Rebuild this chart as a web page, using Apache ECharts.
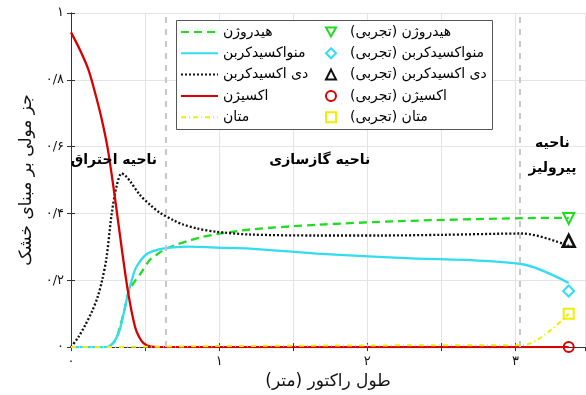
<!DOCTYPE html>
<html>
<head>
<meta charset="utf-8">
<script src="https://cdn.jsdelivr.net/npm/echarts@6/dist/echarts.min.js"></script>
<style>
html,body{margin:0;padding:0;background:#fff;}
#c{width:586px;height:395px;}
</style>
</head>
<body>
<div id="c"></div>
<script>
// ---------- data ----------
const RLM = '\u200F';
const seriesNames = ['هیدروژن', 'منواکسیدکربن', 'دی اکسیدکربن', 'اکسیژن', 'متان'];
const expNames = ['هیدروژن (تجربی)' + RLM, 'منواکسیدکربن (تجربی)' + RLM, 'دی اکسیدکربن (تجربی)' + RLM, 'اکسیژن (تجربی)' + RLM, 'متان (تجربی)' + RLM];

const hydrogenX = [0, 0.24, 0.30, 0.33, 0.36, 0.385, 0.42, 0.466, 0.534, 0.58, 0.635, 0.714, 0.80, 0.87, 0.984, 1.21, 1.66, 2.22, 3.05, 3.36];
const hydrogenY = [0, 0, 0.02, 0.06, 0.11, 0.159, 0.19, 0.218, 0.262, 0.277, 0.293, 0.307, 0.319, 0.328, 0.338, 0.352, 0.366, 0.377, 0.386, 0.387];

const coX = [0, 0.24, 0.28, 0.32, 0.345, 0.365, 0.385, 0.41, 0.44, 0.51, 0.60, 0.67, 0.80, 0.984, 1.21, 1.66, 2.22, 3.05, 3.36];
const coY = [0, 0, 0.01, 0.04, 0.08, 0.12, 0.159, 0.2, 0.239, 0.278, 0.293, 0.298, 0.301, 0.298, 0.295, 0.28, 0.267, 0.248, 0.192];

const co2X = [0, 0.05, 0.095, 0.14, 0.18, 0.21, 0.24, 0.275, 0.31, 0.342, 0.37, 0.40, 0.466, 0.534, 0.60, 0.70, 0.757, 0.85, 0.984, 1.21, 1.66, 2.09, 2.5, 3.05, 3.36];
const co2Y = [0, 0.03, 0.065, 0.105, 0.15, 0.2, 0.268, 0.4, 0.486, 0.52, 0.512, 0.496, 0.455, 0.426, 0.402, 0.378, 0.367, 0.355, 0.345, 0.337, 0.334, 0.334, 0.336, 0.34, 0.303];

const oxygenX = [0, 0.06, 0.117, 0.162, 0.207, 0.248, 0.297, 0.342, 0.387, 0.432, 0.46, 0.489, 0.534, 0.6, 1.5, 3.36];
const oxygenY = [0.942, 0.89, 0.831, 0.762, 0.683, 0.594, 0.446, 0.297, 0.16, 0.061, 0.03, 0.012, 0.002, 0, 0, 0];

const methaneX = [0, 0.5, 1, 2, 3.05, 3.36];
const methaneY = [0, 0.001, 0.003, 0.005, 0.006, 0.10];

const expX = 3.36;
const expY = [0.385, 0.168, 0.318, 0, 0.10];

const regionBounds = [0.635, 3.03];
const regionLabels = ['ناحیه احتراق', 'ناحیه گازسازی', 'ناحیه\nپیرولیز'];
const regionLabelX = [0.29, 1.68, 3.25];
const regionLabelY = [0.558, 0.558, 0.573];

const xTickLabels = ['۰', '۱', '۲', '۳'];
const yTickLabels = ['۰', '۰/۲', '۰/۴', '۰/۶', '۰/۸', '۱'];
const xTitle = 'طول راکتور (متر)' + RLM;
const yTitle = 'جز مولی بر مبنای خشک';

// ---------- chart ----------
const FONT = 'DejaVu Sans';
const zip = (xs, ys) => xs.map((x, i) => [x, ys[i]]);
const colors = ['#1fdc1f', '#33dcf0', '#111111', '#d80000', '#f2ee00'];
const lineTypes = [[8, 5], 'solid', [2, 2], 'solid', [5, 3, 1, 3]];
const lineData = [zip(hydrogenX, hydrogenY), zip(coX, coY), zip(co2X, co2Y), zip(oxygenX, oxygenY), zip(methaneX, methaneY)];
const expSymbols = ['triangle', 'diamond', 'triangle', 'circle', 'rect'];
const expRot = [180, 0, 0, 0, 0];
const expSize = [11, 11, 12, 10, 10];
const downTriangleIcon = 'path://M0,0 L10,0 L5,9 Z';

const series = [];
lineData.forEach((d, i) => {
  series.push({
    name: seriesNames[i], type: 'line', data: d, symbol: 'none', smooth: 0.3,
    z: i === 4 ? 3 : 2,
    lineStyle: { color: colors[i], width: i === 4 ? 2 : 2.3, type: lineTypes[i] },
    itemStyle: { color: colors[i] },
    silent: true,
    markLine: i === 0 ? {
      silent: true, symbol: 'none', label: { show: false },
      lineStyle: { color: '#c8c8c8', width: 2, type: [6, 6] },
      data: regionBounds.map(v => ({ xAxis: v }))
    } : undefined
  });
});
expY.forEach((v, i) => {
  series.push({
    name: expNames[i], type: 'scatter', data: [[expX, v]],
    symbol: expSymbols[i], symbolSize: expSize[i], symbolRotate: expRot[i], z: 4,
    itemStyle: { color: 'rgba(255,255,255,0)', opacity: 1, borderColor: colors[i], borderWidth: i === 2 ? 2.5 : 2 }
  });
});
series.push({
  type: 'scatter', symbolSize: 0, silent: true, z: 6,
  itemStyle: { opacity: 1 },
  data: regionLabels.map((t, i) => [regionLabelX[i], regionLabelY[i], t]),
  label: { show: true, position: 'inside', formatter: p => p.data[2], color: '#000', textBorderWidth: 0, textBorderColor: 'transparent',
    fontFamily: FONT, fontSize: 14, fontWeight: 'bold', lineHeight: 25, align: 'center' }
});

const axisLineStyle = { color: '#333', width: 1 };
const option = {
  backgroundColor: '#fff',
  animation: false,
  grid: { left: 71, top: 13, right: 1, bottom: 44 },
  xAxis: [{
    type: 'value', min: 0, max: 3.47, interval: 0.5,
    axisLine: { lineStyle: axisLineStyle },
    axisTick: { inside: true, length: 4, lineStyle: { color: '#333' } },
    splitLine: { show: true, lineStyle: { color: '#e4e4e4', width: 1 } },
    axisLabel: { margin: 8, fontFamily: FONT, fontSize: 13, color: '#111', showMaxLabel: false,
      formatter: v => (Math.abs(v - Math.round(v)) < 1e-6 ? (xTickLabels[Math.round(v)] || '') : '') },
    name: xTitle, nameLocation: 'middle', nameGap: 23,
    nameTextStyle: { fontFamily: FONT, fontSize: 17, color: '#111', verticalAlign: 'top' }
  }, {
    type: 'value', min: 0, max: 3.47, interval: 0.5, position: 'top',
    axisLine: { lineStyle: axisLineStyle },
    axisTick: { inside: true, length: 4, lineStyle: { color: '#333' } },
    axisLabel: { show: false }, splitLine: { show: false }
  }],
  yAxis: [{
    type: 'value', min: 0, max: 1, interval: 0.2,
    axisLine: { show: true, lineStyle: axisLineStyle },
    axisTick: { show: true, inside: true, length: 4, lineStyle: { color: '#333' } },
    splitLine: { show: true, lineStyle: { color: '#e4e4e4', width: 1 } },
    axisLabel: { margin: 7, fontFamily: FONT, fontSize: 13, color: '#111',
      formatter: v => yTickLabels[Math.round(v * 5)] || '' },
    name: yTitle, nameLocation: 'middle', nameGap: 30,
    nameTextStyle: { fontFamily: FONT, fontSize: 17, color: '#111' }
  }, {
    type: 'value', min: 0, max: 1, interval: 0.2, position: 'right',
    axisLine: { show: true, lineStyle: axisLineStyle },
    axisTick: { show: true, inside: true, length: 4, lineStyle: { color: '#333' } },
    axisLabel: { show: false }, splitLine: { show: false }
  }],
  graphic: [{
    type: 'rect', left: 176, top: 20, z: 4, zlevel: 0,
    shape: { width: 316, height: 109 },
    style: { fill: '#fff', stroke: '#555', lineWidth: 1 }
  }],
  legend: [{
    data: seriesNames.map(n => ({ name: n, itemStyle: { opacity: 0 } })),
    orient: 'vertical', left: 180, top: 25, padding: 0,
    itemWidth: 37, itemHeight: 14, itemGap: 7.3, z: 6,
    textStyle: { fontFamily: FONT, fontSize: 14, color: '#000' }
  }, {
    data: expNames.map((n, i) => (i === 0 ? { name: n, icon: downTriangleIcon } : { name: n })),
    orient: 'vertical', left: 325, top: 25, padding: 0,
    itemWidth: 10, itemHeight: 10, itemGap: 7.3, z: 6,
    textStyle: { fontFamily: FONT, fontSize: 14, color: '#000', padding: [0, 0, 0, 9] }
  }],
  series: series
};
const chart = echarts.init(document.getElementById('c'), null, { renderer: 'canvas' });
chart.setOption(option);
</script>
</body>
</html>
